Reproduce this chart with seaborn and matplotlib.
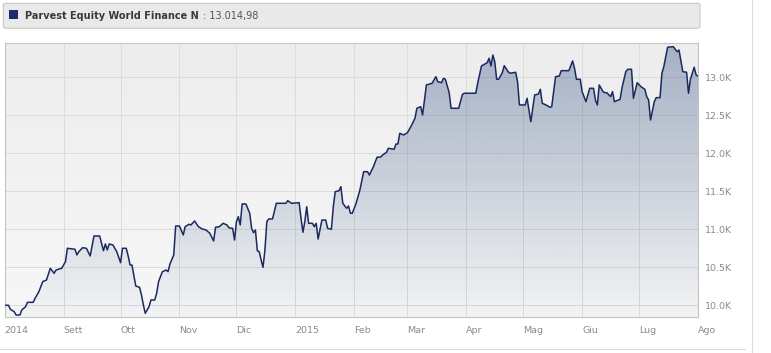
import numpy as np
import pandas as pd
import seaborn as sns
import matplotlib.pyplot as plt
import matplotlib.dates as mdates
from matplotlib.patches import FancyBboxPatch, Rectangle
from matplotlib.lines import Line2D

# data: days after start date, fund value
start = "2014-08-01"
day = [0, 2, 3, 5, 6, 8, 9, 11, 12, 15,
       16, 18, 20, 22, 24, 26, 27, 30, 32, 33,
       37, 38, 39, 41, 43, 45, 47, 50, 51, 52,
       53, 54, 55, 57, 59, 61, 62, 64, 65, 66,
       67, 69, 71, 72, 73, 74, 76, 77, 79, 80,
       81, 83, 85, 86, 87, 89, 90, 92, 94, 95,
       97, 98, 100, 102, 104, 106, 108, 110, 111, 113,
       115, 117, 118, 120, 121, 122, 123, 124, 125, 127,
       129, 130, 131, 132, 133, 134, 135, 136, 137, 138,
       139, 141, 143, 148, 149, 151, 155, 156, 157, 158,
       159, 160, 162, 163, 164, 165, 167, 169, 170, 172,
       173, 174, 176, 177, 178, 180, 181, 182, 183, 185,
       186, 187, 189, 191, 192, 193, 194, 196, 198, 199,
       201, 202, 205, 206, 207, 208, 210, 212, 213, 214,
       216, 217, 219, 220, 222, 225, 227, 228, 230, 231,
       232, 234, 235, 239, 241, 242, 248, 249, 251, 254,
       255, 256, 257, 258, 259, 260, 262, 263, 265, 266,
       269, 270, 271, 274, 275, 276, 277, 279, 281, 282,
       283, 285, 287, 288, 290, 292, 293, 297, 299, 300,
       301, 303, 304, 306, 308, 310, 311, 312, 313, 315,
       316, 317, 319, 320, 321, 323, 324, 325, 327, 328,
       330, 331, 333, 335, 337, 338, 339, 340, 342, 343,
       345, 346, 347, 349, 352, 354, 355, 357, 359, 360,
       361, 363, 364, 365]
value = [10000, 10000, 9947, 9916, 9872, 9872, 9938, 9982, 10039, 10039,
         10092, 10179, 10311, 10333, 10487, 10421, 10464, 10487, 10574, 10750,
         10737, 10662, 10705, 10758, 10750, 10649, 10912, 10912, 10816, 10718,
         10807, 10728, 10807, 10793, 10705, 10561, 10750, 10750, 10649, 10530,
         10530, 10254, 10237, 10136, 10004, 9895, 9982, 10070, 10070, 10158,
         10311, 10442, 10464, 10442, 10543, 10662, 11043, 11043, 10925, 11034,
         11066, 11057, 11109, 11034, 11004, 10991, 10947, 10846, 11026, 11034,
         11079, 11057, 11021, 11013, 10859, 11100, 11166, 11057, 11333, 11333,
         11211, 11013, 10955, 10991, 10718, 10705, 10596, 10500, 10728, 11100,
         11136, 11136, 11342, 11342, 11376, 11342, 11350, 11145, 10961, 11100,
         11297, 11079, 11079, 11034, 11079, 10872, 11122, 11122, 11013, 11000,
         11297, 11495, 11508, 11561, 11342, 11276, 11307, 11211, 11211, 11342,
         11429, 11517, 11758, 11758, 11714, 11767, 11816, 11947, 11951, 11978,
         12013, 12066, 12053, 12122, 12122, 12263, 12241, 12271, 12316, 12359,
         12461, 12592, 12613, 12504, 12899, 12921, 13008, 12942, 12929, 12987,
         12974, 12797, 12592, 12592, 12776, 12790, 12790, 12921, 13149, 13192,
         13250, 13149, 13293, 13205, 12974, 12974, 13061, 13153, 13074, 13053,
         13066, 12942, 12636, 12636, 12724, 12570, 12416, 12767, 12780, 12842,
         12658, 12636, 12605, 12613, 13008, 13017, 13087, 13087, 13215, 13118,
         12974, 12974, 12811, 12679, 12855, 12855, 12701, 12636, 12899, 12811,
         12797, 12797, 12745, 12811, 12679, 12701, 12711, 12863, 13074, 13105,
         13105, 12724, 12929, 12876, 12842, 12745, 12701, 12438, 12679, 12732,
         12732, 13053, 13140, 13395, 13403, 13337, 13359, 13074, 13066, 12790,
         12974, 13132, 13030, 13015]

fund_name = "Parvest Equity World Finance N"
last_value = "13.014,98"
month_labels = ["2014", "Sett", "Ott", "Nov", "Dic", "2015", "Feb",
                "Mar", "Apr", "Mag", "Giu", "Lug", "Ago"]
y_ticks = [10000, 10500, 11000, 11500, 12000, 12500, 13000]
y_labels = ["10.0K", "10.5K", "11.0K", "11.5K", "12.0K", "12.5K", "13.0K"]

dates = pd.Timestamp(start) + pd.to_timedelta(day, unit="D")
df = pd.DataFrame({"date": dates, "value": value})

W, H = 771, 353
sns.set_style("white")
plt.rcParams["font.family"] = ["DejaVu Sans"]

fig = plt.figure(figsize=(W / 100, H / 100), dpi=100)
fig.patch.set_facecolor("white")


def fx(px):
    return px / W


def fy(py):
    return 1 - py / H


ax = fig.add_axes([fx(4.7), fy(316.7), fx(698) - fx(4.7), fy(42.7) - fy(316.7)])

xmin = pd.Timestamp("2014-08-01")
xmax = pd.Timestamp("2015-08-01")
ymin, ymax = 9850, 13455
x0, x1 = mdates.date2num(xmin), mdates.date2num(xmax)

# plot background, slight gradient
t = np.linspace(0, 1, 256).reshape(-1, 1)
bg = np.zeros((256, 1, 3))
for k in range(3):
    bg[:, :, k] = (237 + (247 - 237) * t) / 255
ax.imshow(bg, extent=[x0, x1, ymin, ymax], aspect="auto", origin="upper", zorder=0)

# area fill with a fading gradient
fill = np.zeros((256, 1, 4))
fill[:, :, 0] = 48 / 255
fill[:, :, 1] = 78 / 255
fill[:, :, 2] = 130 / 255
fill[:, :, 3] = 0.38 - 0.36 * t
poly = ax.fill_between(df["date"], df["value"], ymin, facecolor="none", edgecolor="none")
im = ax.imshow(fill, extent=[x0, x1, ymin, ymax], aspect="auto", origin="upper", zorder=2)
im.set_clip_path(poly.get_paths()[0], ax.transData)

sns.lineplot(data=df, x="date", y="value", ax=ax, color="#1b2a5e", lw=1.1, zorder=3)

ax.set_xlim(xmin, xmax)
ax.set_ylim(ymin, ymax)
ax.set_xlabel("")
ax.set_ylabel("")

ax.set_axisbelow(True)
ax.grid(True, color="#dcdcdc", lw=0.7)
for s in ax.spines.values():
    s.set_color("#c4c4c4")
    s.set_linewidth(0.8)

ax.set_xticks(pd.date_range(xmin, xmax, freq="MS"))
ax.set_xticklabels(month_labels)
for lbl in ax.get_xticklabels():
    lbl.set_ha("left")
ax.tick_params(axis="x", length=0, pad=7, labelsize=6.8, labelcolor="#8a8a8a")

ax.yaxis.tick_right()
ax.set_yticks(y_ticks)
ax.set_yticklabels(y_labels)
ax.tick_params(axis="y", length=0, pad=5, labelsize=6.8, labelcolor="#8a8a8a")

# header with legend box
hdr = FancyBboxPatch((fx(3.3), fy(28.3)), fx(700) - fx(3.3), fy(3.3) - fy(28.3),
                     boxstyle="round,pad=0,rounding_size=0.004", transform=fig.transFigure,
                     fc="#e9e9e9", ec="#c8c8c8", lw=0.8)
fig.patches.append(hdr)
fig.patches.append(Rectangle((fx(9.3), fy(19.3)), 9 / W, 9 / H, transform=fig.transFigure,
                             fc="#1c2a6e", ec="none"))
fig.text(fx(25), fy(16), fund_name, fontsize=7, weight="bold", color="#3a3a3a", va="center")
fig.text(fx(203), fy(16), ": " + last_value, fontsize=7, color="#555555", va="center")

# outer container border
fig.add_artist(Line2D([fx(752), fx(752)], [0, 1], transform=fig.transFigure, color="#dddddd", lw=0.8))
fig.add_artist(Line2D([0, fx(745)], [fy(349), fy(349)], transform=fig.transFigure, color="#dddddd", lw=0.8))

fig.savefig("out.png", dpi=100)
